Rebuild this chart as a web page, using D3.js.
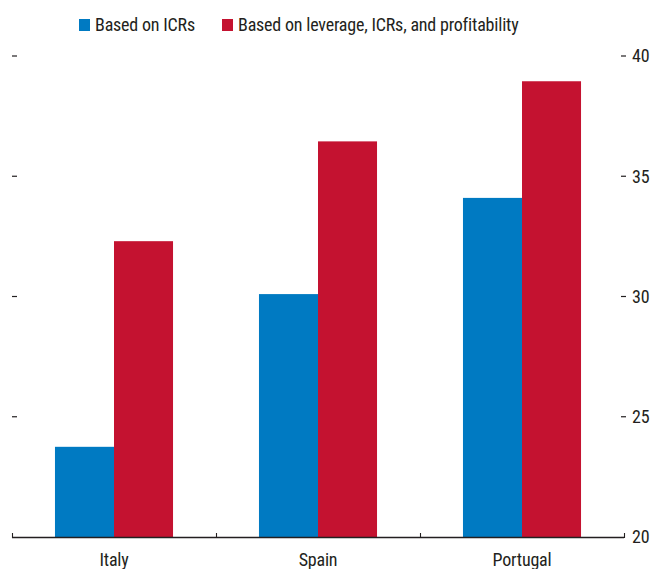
<!DOCTYPE html>
<html>
<head>
<meta charset="utf-8">
<script src="https://cdn.jsdelivr.net/npm/d3@7"></script>
<style>
  html, body { margin: 0; padding: 0; background: #fff; }
  svg { display: block; }
  text { font-family: "Liberation Sans Narrow", "Arial Narrow", "Roboto Condensed", Roboto, sans-serif; fill: #231f20; letter-spacing: -0.2px; }
</style>
</head>
<body>
<svg id="chart" width="654" height="569"></svg>
<script>
// Share of firms flagged as weak, by classification method
const countries = ["Italy", "Spain", "Portugal"];
const seriesNames = ["Based on ICRs", "Based on leverage, ICRs, and profitability"];
const icrValues = [23.75, 30.1, 34.1];
const combinedValues = [32.3, 36.45, 38.95];
const yTicks = [20, 25, 30, 35, 40];
const seriesColors = ["#007ac2", "#c41230"];

const svg = d3.select("#chart");
const plotLeft = 12, plotRight = 624, plotTop = 56, plotBottom = 537;

const x = d3.scaleBand().domain(countries).range([plotLeft, plotRight]).paddingInner(0).paddingOuter(0);
const inner = d3.scaleBand().domain([0, 1]).range([0, x.bandwidth()]).paddingInner(0).paddingOuter(0.728);
const y = d3.scaleLinear().domain([20, 40]).range([plotBottom, plotTop]);

const rows = countries.map((c, i) => ({ country: c, values: [icrValues[i], combinedValues[i]] }));

// Bars
const groups = svg.append("g").selectAll("g").data(rows).join("g")
  .attr("transform", d => `translate(${x(d.country)},0)`);
groups.selectAll("rect")
  .data(d => d.values.map((v, k) => ({ k, v })))
  .join("rect")
  .attr("x", d => inner(d.k))
  .attr("width", inner.bandwidth())
  .attr("y", d => y(d.v))
  .attr("height", d => y(20) - y(d.v))
  .attr("fill", d => seriesColors[d.k]);

// Right value axis: small dash marks followed by labels
const rightAxis = svg.append("g").attr("transform", `translate(${plotRight},0)`);
rightAxis.selectAll("line").data(yTicks.filter(t => t !== 20)).join("line")
  .attr("x1", -3).attr("x2", 2)
  .attr("y1", d => y(d)).attr("y2", d => y(d))
  .attr("stroke", "#231f20").attr("stroke-width", 1.2);
rightAxis.selectAll("text").data(yTicks).join("text")
  .attr("x", 8).attr("y", d => y(d)).attr("dy", "0.36em")
  .attr("font-size", 18)
  .text(d => d);

// Left dash marks (unlabelled)
svg.append("g").selectAll("line").data(yTicks.filter(t => t !== 20)).join("line")
  .attr("x1", plotLeft).attr("x2", plotLeft + 5)
  .attr("y1", d => y(d)).attr("y2", d => y(d))
  .attr("stroke", "#231f20").attr("stroke-width", 1.2);

// Category axis with boundary ticks
const xAxis = svg.append("g");
xAxis.append("line")
  .attr("x1", plotLeft).attr("x2", plotRight)
  .attr("y1", plotBottom + 0.5).attr("y2", plotBottom + 0.5)
  .attr("stroke", "#231f20").attr("stroke-width", 1.3);
const bounds = countries.map(c => x(c)).concat([x(countries[countries.length - 1]) + x.bandwidth()]);
xAxis.selectAll("line.b").data(bounds).join("line").attr("class", "b")
  .attr("x1", d => d + 0.5).attr("x2", d => d + 0.5)
  .attr("y1", plotBottom - 4).attr("y2", plotBottom + 1)
  .attr("stroke", "#231f20").attr("stroke-width", 1.1);
xAxis.selectAll("text").data(countries).join("text")
  .attr("x", d => x(d) + x.bandwidth() / 2)
  .attr("y", 566)
  .attr("text-anchor", "middle")
  .attr("font-size", 18)
  .text(d => d);

// Legend
const legend = svg.append("g");
const legendX = [79, 222];
seriesNames.forEach((name, i) => {
  legend.append("rect")
    .attr("x", legendX[i]).attr("y", 19)
    .attr("width", 11).attr("height", 12)
    .attr("fill", seriesColors[i]);
  legend.append("text")
    .attr("x", legendX[i] + 16).attr("y", 31)
    .attr("font-size", 18)
    .text(name);
});
</script>
</body>
</html>
